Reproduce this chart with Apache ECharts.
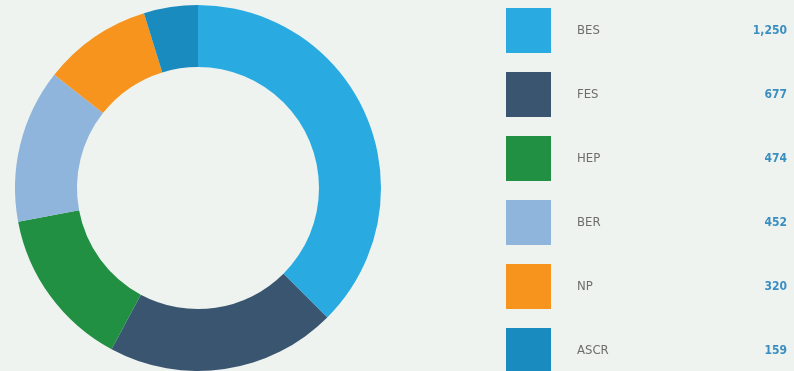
<!DOCTYPE html>
<html>
<head>
<meta charset="utf-8">
<script src="https://cdn.jsdelivr.net/npm/echarts@6/dist/echarts.min.js"></script>
<style>
html,body{margin:0;padding:0;background:#eff3f0;}
#c{width:794px;height:371px;}
</style>
</head>
<body>
<div id="c"></div>
<script>
const categories = ['BES', 'FES', 'HEP', 'BER', 'NP', 'ASCR'];
const values = [1250, 677, 474, 452, 320, 159];
const valueLabels = ['1,250', '677', '474', '452', '320', '159'];
const colors = ['#29abe2', '#3a5570', '#229043', '#8fb5dd', '#f7941d', '#1a8bbf'];

const chart = echarts.init(document.getElementById('c'));
const data = categories.map((c, i) => ({ name: c, value: values[i], itemStyle: { color: colors[i] } }));
const FONT = '"DejaVu Sans Condensed", "Liberation Sans Narrow", sans-serif';
chart.setOption({
  backgroundColor: '#eff3f0',
  animation: false,
  legend: {
    orient: 'vertical',
    left: 506,
    top: 8,
    height: 420,
    padding: 0,
    itemWidth: 45,
    itemHeight: 45,
    itemGap: 19,
    icon: 'rect',
    selectedMode: false,
    data: categories,
    formatter: function (name) {
      const i = categories.indexOf(name);
      return '{n|' + name + '}{v|' + valueLabels[i] + '}';
    },
    textStyle: {
      rich: {
        n: { width: 150, padding: [0, 0, 0, 21], fontSize: 13, color: '#6d6d6d', fontFamily: FONT },
        v: { width: 60, align: 'right', fontSize: 12, fontWeight: 'bold', color: '#3a8fc0', fontFamily: FONT }
      }
    }
  },
  series: [{
    type: 'pie',
    center: [198, 188],
    radius: [121, 183],
    startAngle: 90,
    clockwise: true,
    label: { show: false },
    labelLine: { show: false },
    silent: true,
    itemStyle: { borderWidth: 0 },
    data: data
  }]
});
</script>
</body>
</html>
